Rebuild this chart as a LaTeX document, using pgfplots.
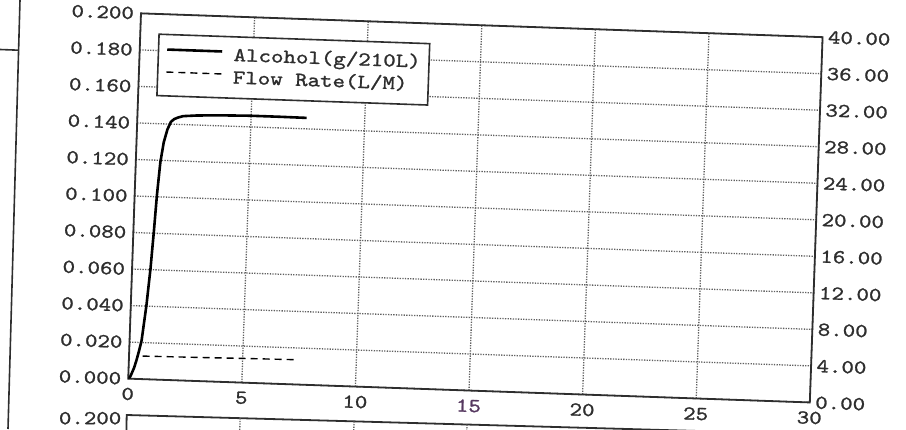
\documentclass[border=0pt]{standalone}
\usepackage{fontspec}
\setmainfont{lmmono10-regular.otf}[FakeStretch=1.2, FakeBold=1.2]
\usepackage{pgfplots}
\pgfplotsset{compat=1.18}
\definecolor{gridc}{gray}{0.38}
\definecolor{axc}{gray}{0.18}
\definecolor{purp}{RGB}{85,55,95}
\newcommand{\tf}{\fontsize{9.9}{12}\selectfont}
\begin{document}
\begin{tikzpicture}
% fragments of neighbouring panels (scan)
\draw[line width=0.8pt, axc] (10pt,214.5pt) -- (4pt,0pt);
\draw[line width=0.8pt, axc] (0pt,189.75pt) -- (9.3pt,189.4pt);
\draw[line width=0.9pt, axc] (63.2pt,-1pt) -- (63.35pt,7pt) -- (453pt,-3.9pt);
\node[anchor=east, inner sep=0pt, text=axc, font=\tf] at (60.85pt,5.4pt) {0.200};
\foreach \xx/\yy in {120pt/5.4pt, 177pt/3.8pt, 233.5pt/2.25pt}
  \draw[gridc, line width=0.65pt, dash pattern=on 0.65pt off 0.65pt] (\xx,\yy) -- (\xx-0.1pt,-1pt);
\begin{scope}[transform canvas={rotate around={-2:(237.7pt,110.55pt)}}]
\begin{axis}[
  at={(237.7pt,110.55pt)}, anchor=center,
  width=341pt, height=182.75pt, scale only axis,
  xmin=0, xmax=30, ymin=0, ymax=0.2,
  xtick={0,5,10,15,20,25,30},
  xticklabels={0,5,10,{\color{purp}15},20,25,30},
  ytick={0,0.02,0.04,0.06,0.08,0.1,0.12,0.14,0.16,0.18,0.2},
  yticklabels={0.000,0.020,0.040,0.060,0.080,0.100,0.120,0.140,0.160,0.180,0.200},
  major tick length=0pt,
  tick style={draw=none},
  ticklabel style={font=\tf, text=axc},
  xticklabel style={yshift=-1pt},
  axis line style={line width=0.9pt, axc},
  grid=major,
  major grid style={gridc, line width=0.65pt, dash pattern=on 0.65pt off 0.65pt},
  legend cell align=left,
  legend image code/.code={\draw[#1] (0pt,2.2pt) -- (27.5pt,2.2pt);},
  legend style={at={(0,1)}, anchor=north west, xshift=9pt, yshift=-9.7pt,
    draw=axc, line width=0.8pt, fill=white, font=\tf, text=axc,
    inner xsep=3.7pt, inner ysep=4.6pt, column sep=4.65pt, row sep=1pt,
    nodes={inner sep=0.5pt, text height=7pt, text depth=2.25pt}},
]
\addplot[black, line width=1.3pt] coordinates {
 (0,0) (0.07,0.0008) (0.14,0.0028) (0.24,0.0060) (0.34,0.0105) (0.44,0.0158)
 (0.53,0.0212) (0.69,0.0408) (0.81,0.0606) (0.90,0.0807) (0.98,0.101)
 (1.08,0.119) (1.20,0.130) (1.34,0.137) (1.48,0.1412) (1.62,0.1428) (1.78,0.1437)
 (2.01,0.1446) (2.6,0.1452) (3.5,0.1457) (4.95,0.1461) (6.2,0.1461) (7.44,0.1460)
};
\addlegendentry{Alcohol(g/210L)\hspace{2.8pt}}
\addlegendimage{black, line width=0.7pt, dash pattern=on 3.5pt off 2.5pt}
\addlegendentry{Flow Rate(L/M)}
\end{axis}
\begin{axis}[
  at={(237.7pt,110.55pt)}, anchor=center,
  width=341pt, height=182.75pt, scale only axis,
  xmin=0, xmax=30, ymin=0, ymax=40,
  hide x axis,
  axis y line*=right,
  axis line style={draw=none},
  ytick={0,4,8,12,16,20,24,28,32,36,40},
  yticklabels={0.00,4.00,8.00,12.00,16.00,20.00,24.00,28.00,32.00,36.00,40.00},
  major tick length=0pt,
  tick style={draw=none},
  ticklabel style={font=\tf, text=axc},
  yticklabel style={xshift=-0.8pt},
]
\addplot[black, line width=0.7pt, dash pattern=on 3.5pt off 2.5pt] coordinates {
 (0.6,2.52) (2.0,2.56) (3.5,2.60) (5.0,2.65) (6.2,2.68) (7.3,2.71)
};
\end{axis}
\end{scope}
\pgfresetboundingbox
\useasboundingbox (0,0) rectangle (453pt,214.5pt);
\end{tikzpicture}
\end{document}
